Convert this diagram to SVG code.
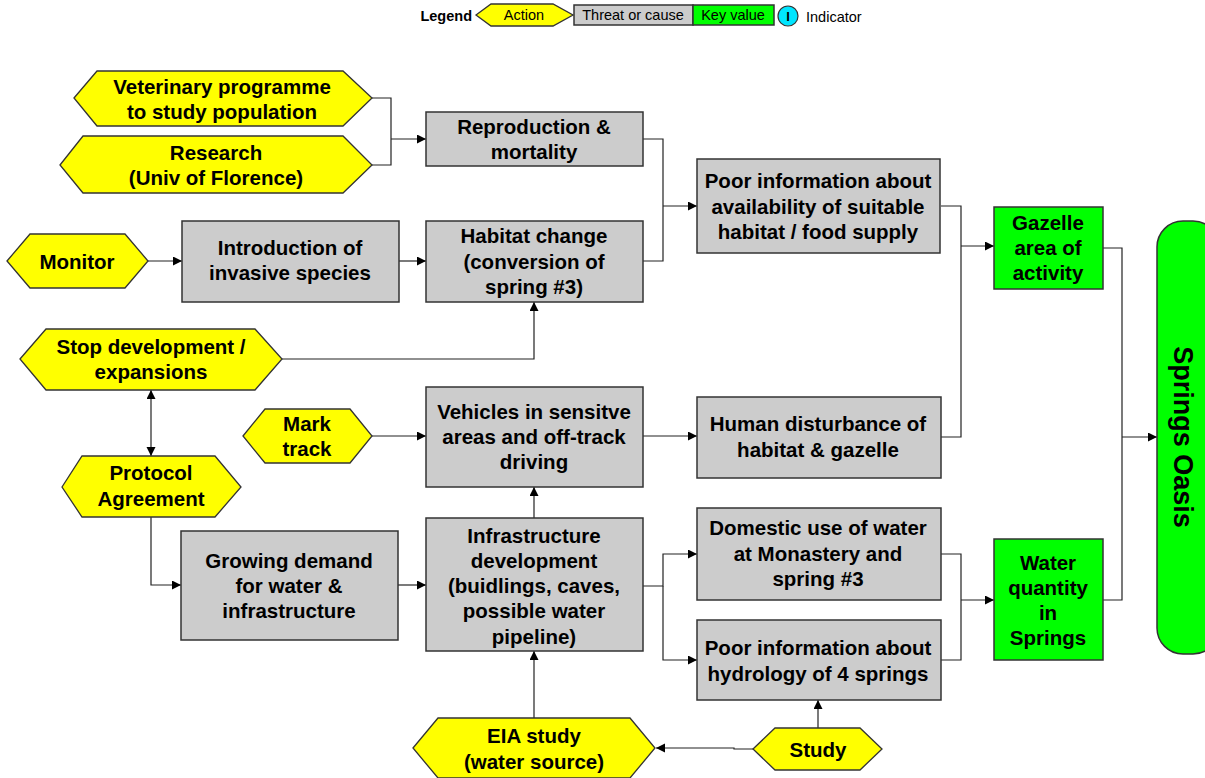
<svg xmlns="http://www.w3.org/2000/svg" width="1205" height="778" viewBox="0 0 1205 778">
<style>
.act{fill:#ffff00;stroke:#333;stroke-width:1.3}
.thr{fill:#cccccc;stroke:#333;stroke-width:1.5}
.key{fill:#00ff00;stroke:#333;stroke-width:1.5}
.t{font-family:"Liberation Sans",Arial,sans-serif;font-weight:bold;font-size:20.5px;fill:#000;text-anchor:middle;dominant-baseline:central}
.lg{font-family:"Liberation Sans",Arial,sans-serif;font-size:14.5px;fill:#000;dominant-baseline:central}
.c{fill:none;stroke:#222;stroke-width:1.2}
</style>
<defs>
<marker id="ah" markerUnits="userSpaceOnUse" markerWidth="10" markerHeight="10" refX="9" refY="4.5" orient="auto-start-reverse"><path d="M0,0 L9,4.5 L0,9 z" fill="#000"/></marker>
</defs>
<rect width="1205" height="778" fill="#fff"/>
<g id="legend">
<text class="lg" x="472" y="16" text-anchor="end" font-weight="bold">Legend</text>
<polygon class="act" points="476,15 491,4 553,4 573,15 553,26 491,26"/>
<text class="lg" x="524" y="15" text-anchor="middle">Action</text>
<rect class="thr" x="574" y="5" width="119" height="20" stroke-width="1.2"/>
<text class="lg" x="633" y="15" text-anchor="middle">Threat or cause</text>
<rect class="key" x="693" y="5" width="81" height="20" stroke-width="1.2"/>
<text class="lg" x="733" y="15" text-anchor="middle">Key value</text>
<circle cx="788" cy="16" r="10" fill="#00e5ff" stroke="#333" stroke-width="1.2"/>
<text class="lg" x="788" y="16" text-anchor="middle" style="font-weight:bold;font-size:13px">I</text>
<text class="lg" x="806" y="17">Indicator</text>
</g>
<g id="connectors">
<path class="c" d="M372,98 H391 V165 H372"/>
<path class="c" d="M391,139 H426" marker-end="url(#ah)"/>
<path class="c" d="M643,139 H663 V261 H643"/>
<path class="c" d="M663,206 H697" marker-end="url(#ah)"/>
<path class="c" d="M148,261 H182" marker-end="url(#ah)"/>
<path class="c" d="M399,261 H426" marker-end="url(#ah)"/>
<path class="c" d="M282,359 H534 V302" marker-end="url(#ah)"/>
<path class="c" d="M151,390 V456" marker-start="url(#ah)" marker-end="url(#ah)"/>
<path class="c" d="M151,512 V585 H181" marker-end="url(#ah)"/>
<path class="c" d="M398,585 H426" marker-end="url(#ah)"/>
<path class="c" d="M534,518 V487" marker-end="url(#ah)"/>
<path class="c" d="M372,436 H426" marker-end="url(#ah)"/>
<path class="c" d="M643,436 H697" marker-end="url(#ah)"/>
<path class="c" d="M941,206 H961 V437 H941"/>
<path class="c" d="M961,246 H994" marker-end="url(#ah)"/>
<path class="c" d="M643,586 H663 V554 H697" marker-end="url(#ah)"/>
<path class="c" d="M663,586 V660 H697" marker-end="url(#ah)"/>
<path class="c" d="M941,554 H961 V660 H941"/>
<path class="c" d="M961,600 H994" marker-end="url(#ah)"/>
<path class="c" d="M1103,248 H1122 V600 H1103"/>
<path class="c" d="M1122,437 H1157" marker-end="url(#ah)"/>
<path class="c" d="M818,728 V700" marker-end="url(#ah)"/>
<path class="c" d="M753,749 H734 V748 H656" marker-end="url(#ah)"/>
<path class="c" d="M534,718 V651" marker-end="url(#ah)"/>
</g>
<g id="veterinary">
<polygon class="act" points="74,98 97,71 343,71 372,98 343,126 97,126"/>
<text class="t" x="222" y="86">Veterinary programme</text>
<text class="t" x="222" y="111">to study population</text>
</g>
<g id="research">
<polygon class="act" points="60,165 83,136 343,136 372,165 343,193 83,193"/>
<text class="t" x="216" y="152">Research</text>
<text class="t" x="216" y="177">(Univ of Florence)</text>
</g>
<g id="reproduction">
<rect class="thr" x="426" y="112" width="217" height="54"/>
<text class="t" x="534" y="126">Reproduction &amp;</text>
<text class="t" x="534" y="151">mortality</text>
</g>
<g id="habitat">
<rect class="thr" x="426" y="221" width="217" height="81"/>
<text class="t" x="534" y="235">Habitat change</text>
<text class="t" x="534" y="261">(conversion of</text>
<text class="t" x="534" y="286">spring #3)</text>
</g>
<g id="poorinfo">
<rect class="thr" x="697" y="159" width="243" height="94"/>
<text class="t" x="818" y="180">Poor information about</text>
<text class="t" x="818" y="206">availability of suitable</text>
<text class="t" x="818" y="231">habitat / food supply</text>
</g>
<g id="monitor">
<polygon class="act" points="7,261 30,234 125,234 148,261 125,288 30,288"/>
<text class="t" x="77" y="261">Monitor</text>
</g>
<g id="introduction">
<rect class="thr" x="182" y="221" width="217" height="81"/>
<text class="t" x="290" y="247">Introduction of</text>
<text class="t" x="290" y="272">invasive species</text>
</g>
<g id="stopdev">
<polygon class="act" points="20,359 46,329 255,329 282,359 255,390 46,390"/>
<text class="t" x="151" y="346">Stop development /</text>
<text class="t" x="151" y="371">expansions</text>
</g>
<g id="protocol">
<polygon class="act" points="62,487 82,456 215,456 241,487 215,517 82,517"/>
<text class="t" x="151" y="472">Protocol</text>
<text class="t" x="151" y="498">Agreement</text>
</g>
<g id="marktrack">
<polygon class="act" points="243,436 265,409 350,409 372,436 350,463 265,463"/>
<text class="t" x="307" y="423">Mark</text>
<text class="t" x="307" y="448">track</text>
</g>
<g id="vehicles">
<rect class="thr" x="426" y="387" width="217" height="100"/>
<text class="t" x="534" y="411">Vehicles in sensitve</text>
<text class="t" x="534" y="436">areas and off-track</text>
<text class="t" x="534" y="461">driving</text>
</g>
<g id="human">
<rect class="thr" x="697" y="397" width="244" height="81"/>
<text class="t" x="818" y="423">Human disturbance of</text>
<text class="t" x="818" y="449">habitat &amp; gazelle</text>
</g>
<g id="gazelle">
<rect class="key" x="994" y="207" width="109" height="82"/>
<text class="t" x="1048" y="222">Gazelle</text>
<text class="t" x="1048" y="247">area of</text>
<text class="t" x="1048" y="272">activity</text>
</g>
<g id="growing">
<rect class="thr" x="181" y="531" width="217" height="109"/>
<text class="t" x="289" y="560">Growing demand</text>
<text class="t" x="289" y="585">for water &amp;</text>
<text class="t" x="289" y="610">infrastructure</text>
</g>
<g id="infrastructure">
<rect class="thr" x="426" y="518" width="217" height="133"/>
<text class="t" x="534" y="535">Infrastructure</text>
<text class="t" x="534" y="560">development</text>
<text class="t" x="534" y="585">(buidlings, caves,</text>
<text class="t" x="534" y="610">possible water</text>
<text class="t" x="534" y="636">pipeline)</text>
</g>
<g id="domestic">
<rect class="thr" x="697" y="508" width="244" height="92"/>
<text class="t" x="818" y="527">Domestic use of water</text>
<text class="t" x="818" y="553">at Monastery and</text>
<text class="t" x="818" y="578">spring #3</text>
</g>
<g id="hydrology">
<rect class="thr" x="697" y="620" width="244" height="80"/>
<text class="t" x="818" y="647">Poor information about</text>
<text class="t" x="818" y="673">hydrology of 4 springs</text>
</g>
<g id="water">
<rect class="key" x="994" y="539" width="109" height="121"/>
<text class="t" x="1048" y="562">Water</text>
<text class="t" x="1048" y="587">quantity</text>
<text class="t" x="1048" y="612">in</text>
<text class="t" x="1048" y="637">Springs</text>
</g>
<g id="springsoasis">
<rect class="key" x="1157" y="221" width="62" height="433" rx="26" ry="26"/>
<text class="t" x="1183" y="437" style="font-size:27px" transform="rotate(90 1183 437)">Springs Oasis</text>
</g>
<g id="study">
<polygon class="act" points="753,749 775,728 860,728 882,749 860,770 775,770"/>
<text class="t" x="818" y="749">Study</text>
</g>
<g id="eia">
<polygon class="act" points="413,748 438,718 630,718 655,748 630,778 438,778"/>
<text class="t" x="534" y="735">EIA study</text>
<text class="t" x="534" y="761">(water source)</text>
</g>
</svg>
